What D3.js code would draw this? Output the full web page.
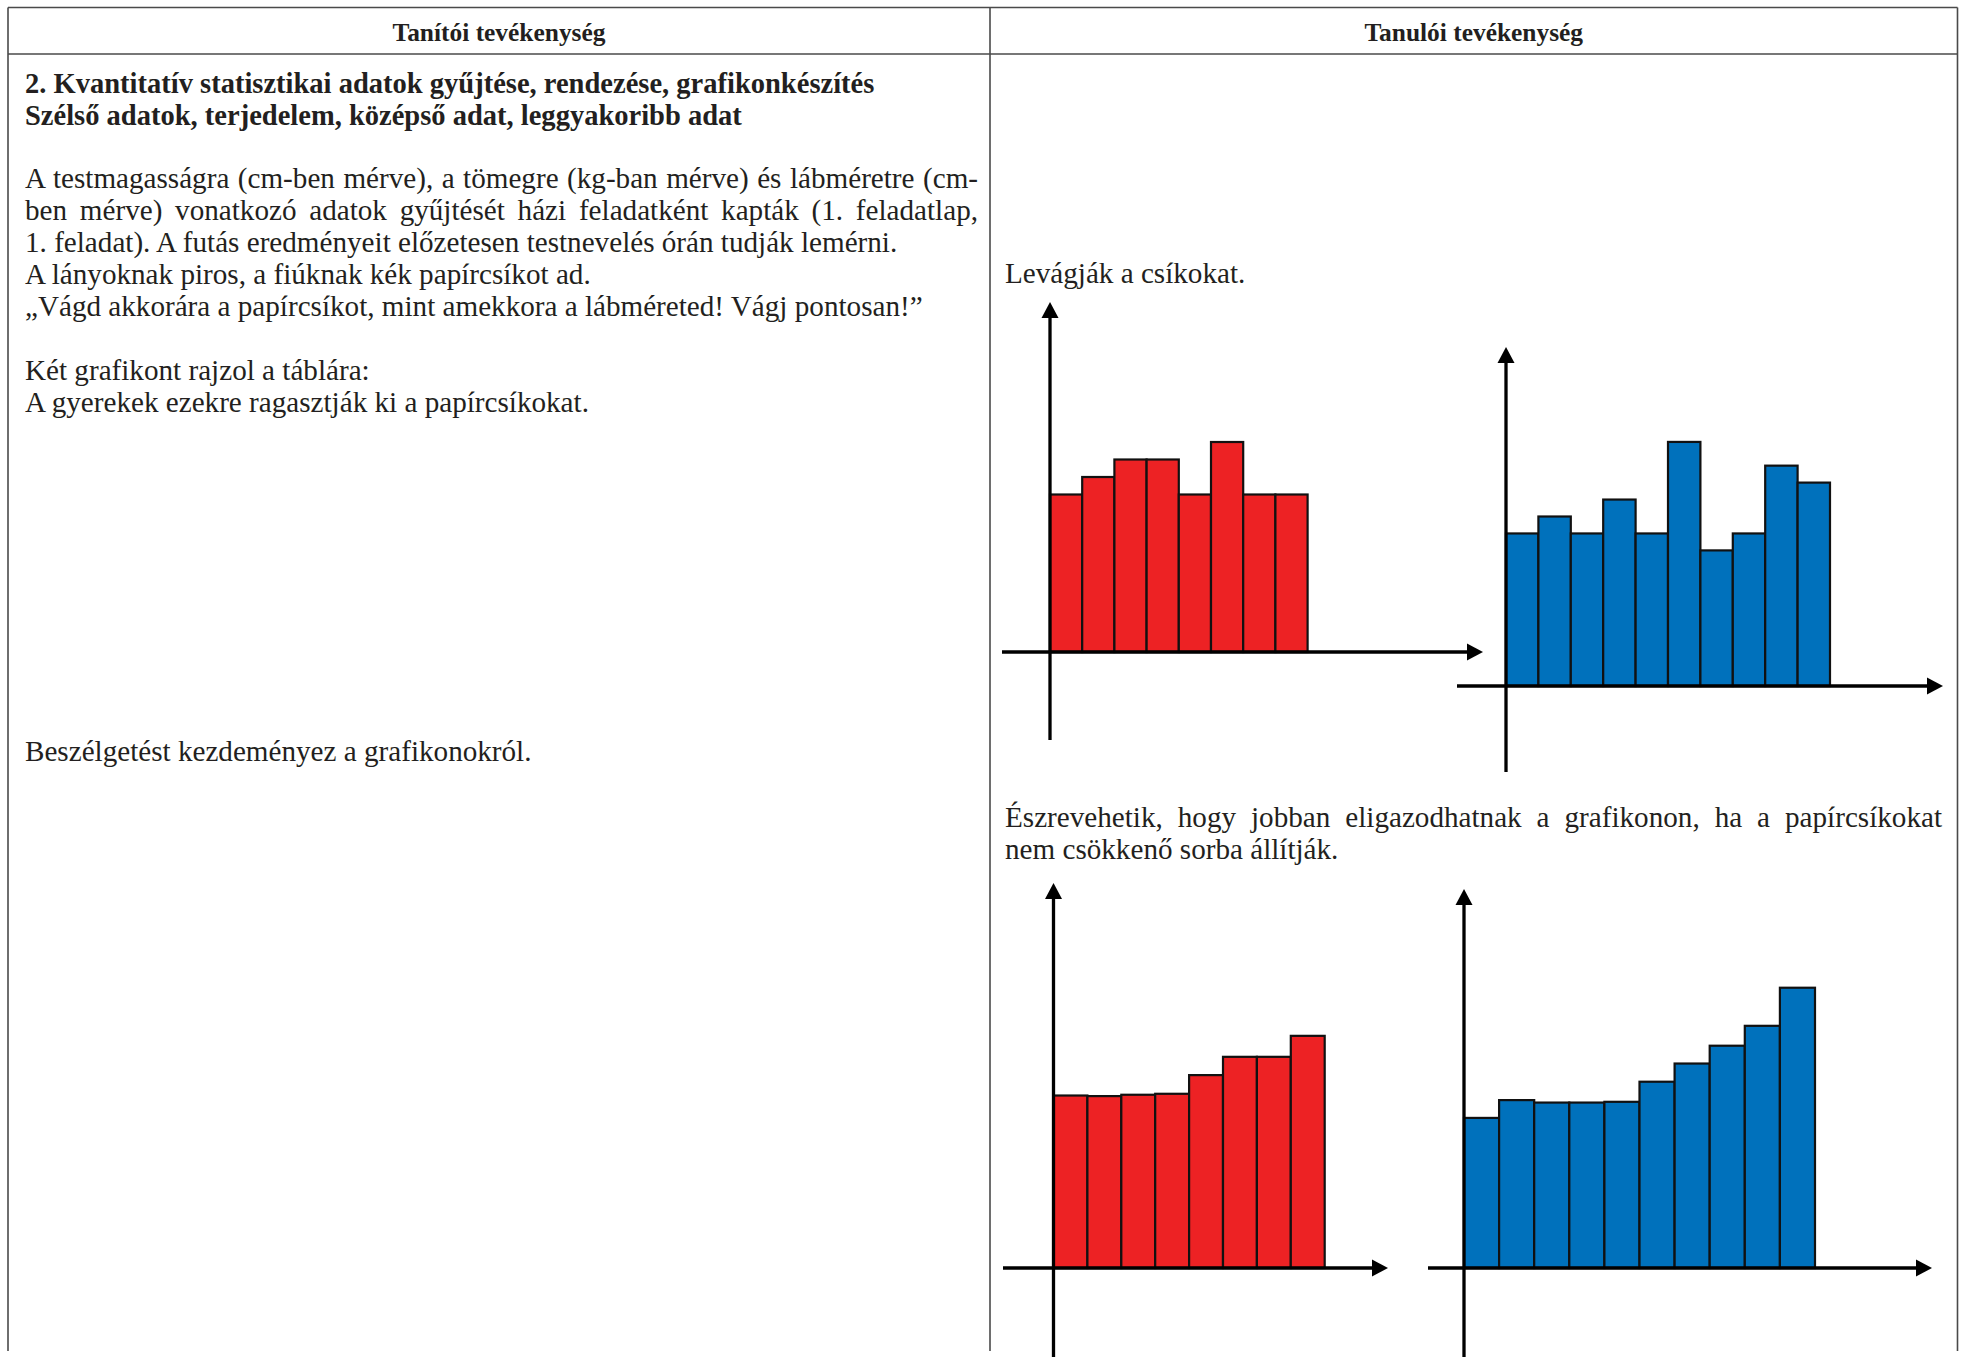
<!DOCTYPE html>
<html><head><meta charset="utf-8">
<script src="https://cdn.jsdelivr.net/npm/d3@7"></script>
<style>body{margin:0;background:#fff} svg{display:block}</style>
</head><body>
<script>
// ---------- texts ----------
const headers = ["Tanítói tevékenység", "Tanulói tevékenység"];
const titleLines = [
  "2. Kvantitatív statisztikai adatok gyűjtése, rendezése, grafikonkészítés",
  "Szélső adatok, terjedelem, középső adat, leggyakoribb adat"
];
const bodyLines = [
  "A testmagasságra (cm-ben mérve), a tömegre (kg-ban mérve) és lábméretre (cm-",
  "ben mérve) vonatkozó adatok gyűjtését házi feladatként kapták (1. feladatlap,",
  "1. feladat). A futás eredményeit előzetesen testnevelés órán tudják lemérni.",
  "A lányoknak piros, a fiúknak kék papírcsíkot ad.",
  "„Vágd akkorára a papírcsíkot, mint amekkora a lábméreted! Vágj pontosan!”"
];
const bodyLines2 = [
  "Két grafikont rajzol a táblára:",
  "A gyerekek ezekre ragasztják ki a papírcsíkokat."
];
const bodyLine3 = "Beszélgetést kezdeményez a grafikonokról.";
const rightText1 = "Levágják a csíkokat.";
const rightText2 = [
  "Észrevehetik, hogy jobban eligazodhatnak a grafikonon, ha a papírcsíkokat",
  "nem csökkenő sorba állítják."
];

// ---------- data (strip lengths, arbitrary units) ----------
const girlsStrips = ["L1","L2","L3","L4","L5","L6","L7","L8"];
const boysStrips  = ["F1","F2","F3","F4","F5","F6","F7","F8","F9","F10"];
const girlsUnsorted = [9, 10, 11, 11, 9, 12, 9, 9];
const boysUnsorted  = [9, 10, 9, 11, 9, 14.4, 8, 9, 13, 12];
const girlsSorted   = [8.96, 8.93, 9.0, 9.05, 10.02, 10.97, 10.97, 12.06];
const boysSorted    = [7.92, 8.86, 8.73, 8.73, 8.77, 9.83, 10.79, 11.73, 12.78, 14.79];
const yMax = 20;

const RED = "#ED2224", BLUE = "#0071BC", INK = "#231F20";
const W = 1961, H = 1357;
const FONT = "'Liberation Serif', 'Times New Roman', serif";

const svg = d3.select("body").append("svg").attr("width", W).attr("height", H)
  .style("font-family", FONT);

// ---------- table ----------
const T = {left: 8, right: 1957.5, top: 7.5, head: 54, mid: 990, bottom: 1351};
const tg = svg.append("g").attr("stroke", "#4a4a4a").attr("stroke-width", 1.6).attr("fill", "none");
tg.append("line").attr("x1", T.left).attr("x2", T.right).attr("y1", T.top).attr("y2", T.top);
tg.append("line").attr("x1", T.left).attr("x2", T.right).attr("y1", T.head).attr("y2", T.head);
[T.left, T.mid, T.right].forEach(x =>
  tg.append("line").attr("x1", x).attr("x2", x).attr("y1", T.top).attr("y2", T.bottom));

// ---------- text helpers ----------
function measure(str, size, weight) {
  const t = svg.append("text").attr("font-size", size).attr("font-weight", weight).text(str);
  const w = t.node().getComputedTextLength();
  t.remove();
  return w;
}
const bodySize = 100 * 898 / measure(bodyLines[4], 100, "normal");
const titleSize = 100 * 850 / measure(titleLines[0], 100, "bold");
const headSize = 100 * 213 / measure(headers[0], 100, "bold");

function line(str, x, y, opts = {}) {
  const t = svg.append("text").attr("x", x).attr("y", y)
    .attr("font-size", opts.size || bodySize)
    .attr("font-weight", opts.bold ? "bold" : "normal")
    .attr("fill", INK)
    .attr("text-anchor", opts.anchor || "start")
    .text(str);
  if (opts.justify) {
    const w = t.node().getComputedTextLength();
    const n = (str.match(/ /g) || []).length;
    if (n > 0) t.style("word-spacing", ((opts.justify - w) / n) + "px");
  }
  return t;
}

// headers
line(headers[0], (T.left + T.mid) / 2, 40.5, {bold: true, size: headSize, anchor: "middle"});
line(headers[1], (T.mid + T.right) / 2, 40.5, {bold: true, size: headSize, anchor: "middle"});

// left column
const LX = 25, LH = 32.2;
titleLines.forEach((s, i) => line(s, LX, 92.5 + i * LH, {bold: true, size: titleSize}));
bodyLines.forEach((s, i) => line(s, LX, 187.5 + i * LH, {justify: i < 2 ? 953 : null}));
bodyLines2.forEach((s, i) => line(s, LX, 380 + i * LH));
line(bodyLine3, LX, 760.5);

// right column
const RX = 1005;
line(rightText1, RX, 283);
rightText2.forEach((s, i) => line(s, RX, 826.5 + i * LH, {justify: i === 0 ? 937 : null}));

// ---------- charts ----------
function chart(cats, values, color, L) {
  const x = d3.scaleBand().domain(cats)
    .range([L.ox, L.ox + L.bw * cats.length]).paddingInner(0).paddingOuter(0);
  const y = d3.scaleLinear().domain([0, yMax]).range([L.oy, L.top]);
  const g = svg.append("g");
  g.selectAll("rect").data(values).join("rect")
    .attr("x", (d, i) => x(cats[i]))
    .attr("width", x.bandwidth())
    .attr("y", d => y(d))
    .attr("height", d => y(0) - y(d))
    .attr("fill", color).attr("stroke", "#111").attr("stroke-width", 2.2);
  const head = 16, hw = 8.5, sw = 3.3;
  const ag = g.append("g");
  // y axis
  ag.append("line").attr("x1", L.ox).attr("x2", L.ox)
    .attr("y1", L.bottom).attr("y2", L.top + head - 1)
    .attr("stroke", "#000").attr("stroke-width", sw);
  ag.append("path")
    .attr("d", `M${L.ox},${L.top}L${L.ox - hw},${L.top + head}L${L.ox + hw},${L.top + head}Z`)
    .attr("fill", "#000");
  // x axis
  ag.append("line").attr("x1", L.left).attr("x2", L.right - head + 1)
    .attr("y1", L.oy).attr("y2", L.oy)
    .attr("stroke", "#000").attr("stroke-width", sw);
  ag.append("path")
    .attr("d", `M${L.right},${L.oy}L${L.right - head},${L.oy - hw}L${L.right - head},${L.oy + hw}Z`)
    .attr("fill", "#000");
}

chart(girlsStrips, girlsUnsorted, RED,
  {ox: 1050, oy: 652, top: 302, bottom: 740, left: 1002, right: 1483, bw: 32.2});
chart(boysStrips, boysUnsorted, BLUE,
  {ox: 1506, oy: 686, top: 347, bottom: 772, left: 1457, right: 1943, bw: 32.4});
chart(girlsStrips, girlsSorted, RED,
  {ox: 1053.5, oy: 1268, top: 883, bottom: 1357, left: 1003, right: 1388, bw: 33.9});
chart(boysStrips, boysSorted, BLUE,
  {ox: 1464, oy: 1268, top: 889, bottom: 1357, left: 1428, right: 1932, bw: 35.1});
</script>
</body></html>
